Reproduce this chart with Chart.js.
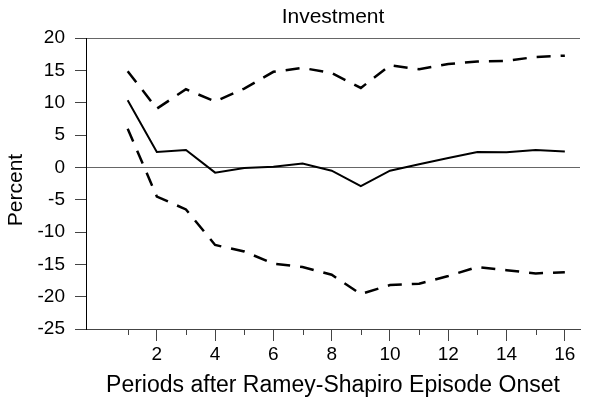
<!DOCTYPE html>
<html lang="en">
<head>
<meta charset="UTF-8">
<title>Investment</title>
<style>
  html, body { margin: 0; padding: 0; background: #fff; overflow: hidden; }
</style>
</head>
<body>
<canvas id="myChart" width="604" height="402"></canvas>
<script src="https://cdn.jsdelivr.net/npm/chart.js"></script>
<script>
  // periods after episode onset
  const periods = [1, 2, 3, 4, 5, 6, 7, 8, 9, 10, 11, 12, 13, 14, 15, 16];
  // point estimate (solid) and the two error bands (dashed), percent
  const response = [10.4, 2.4, 2.7, -0.8, -0.1, 0.1, 0.6, -0.5, -2.9, -0.5, 0.5, 1.45, 2.4, 2.35, 2.7, 2.45];
  const upperBand = [14.9, 9.1, 12.1, 10.2, 12.2, 14.8, 15.4, 14.6, 12.3, 15.8, 15.2, 16.0, 16.4, 16.5, 17.1, 17.3];
  const lowerBand = [6.0, -4.5, -6.5, -12.0, -13.0, -14.9, -15.4, -16.6, -19.6, -18.2, -18.0, -16.8, -15.4, -15.9, -16.4, -16.2];
  const yTicks = [-25, -20, -15, -10, -5, 0, 5, 10, 15, 20];
  const yLabel = 'Percent';

  const family = "'Liberation Sans', Arial, sans-serif";
  const font = { family: family, size: 19 };
  const titleFont = { family: family, size: 21 };
  const xTitleFont = { family: family, size: 23 };

  const toPts = arr => periods.map((p, i) => ({ x: p, y: arr[i] }));

  // shorter tick marks for the odd periods + the y axis label
  const extras = {
    id: 'extras',
    afterDraw(chart) {
      const xs = chart.scales.x, c = chart.ctx;
      c.save();
      c.strokeStyle = '#444';
      c.lineWidth = 1;
      periods.filter(v => v % 2 === 1).forEach(v => {
        const px = Math.round(xs.getPixelForValue(v)) + 0.5;
        c.beginPath();
        c.moveTo(px, xs.top);
        c.lineTo(px, xs.top + 6);
        c.stroke();
      });
      // label sits a little below the middle of the plot
      c.translate(16, 190);
      c.rotate(-Math.PI / 2);
      c.fillStyle = '#000';
      c.font = `${titleFont.size}px ${family}`;
      c.textAlign = 'center';
      c.textBaseline = 'middle';
      c.fillText(yLabel, 0, 0);
      c.restore();
    }
  };

  new Chart(document.getElementById('myChart'), {
    type: 'line',
    data: {
      datasets: [
        { data: toPts(upperBand), borderColor: '#000', borderWidth: 2.5, borderDash: [14, 10], pointRadius: 0, tension: 0 },
        { data: toPts(response), borderColor: '#000', borderWidth: 2, pointRadius: 0, tension: 0 },
        { data: toPts(lowerBand), borderColor: '#000', borderWidth: 2.5, borderDash: [14, 10], pointRadius: 0, tension: 0 }
      ]
    },
    options: {
      responsive: false,
      animation: false,
      layout: { padding: { left: 0, top: 0, bottom: 0, right: 24 } },
      plugins: {
        legend: { display: false },
        tooltip: { enabled: false },
        title: {
          display: true,
          fullSize: false,
          text: 'Investment',
          color: '#000',
          font: { ...titleFont, weight: 'normal' },
          padding: { top: 5, bottom: 8 }
        }
      },
      scales: {
        x: {
          type: 'linear',
          min: -0.43,
          max: 16.52,
          afterBuildTicks: s => { s.ticks = periods.map(v => ({ value: v })); },
          afterFit: s => { s.height = 73; },
          ticks: {
            autoSkip: false,
            maxRotation: 0,
            color: '#000',
            font: font,
            padding: 2,
            callback: v => (v % 2 === 0 ? v : '')
          },
          grid: {
            drawOnChartArea: false,
            tickLength: 12,
            tickColor: c => (c.tick && c.tick.value % 2 === 0 ? '#444' : 'rgba(0,0,0,0)')
          },
          border: { color: '#444', width: 1 },
          title: {
            display: true,
            text: 'Periods after Ramey-Shapiro Episode Onset',
            color: '#000',
            font: xTitleFont,
            padding: { top: 0, bottom: 3 }
          }
        },
        y: {
          min: -25,
          max: 20,
          afterBuildTicks: s => { s.ticks = yTicks.map(v => ({ value: v })); },
          afterFit: s => { s.width = 86; },
          ticks: { color: '#000', font: font, padding: 10 },
          grid: {
            tickLength: 11,
            tickColor: '#444',
            color: c => (c.tick && (c.tick.value === 0 || c.tick.value === 20) ? '#666' : 'rgba(0,0,0,0)')
          },
          border: { color: '#000', width: 1 }
        }
      }
    },
    plugins: [extras]
  });
</script>
</body>
</html>
